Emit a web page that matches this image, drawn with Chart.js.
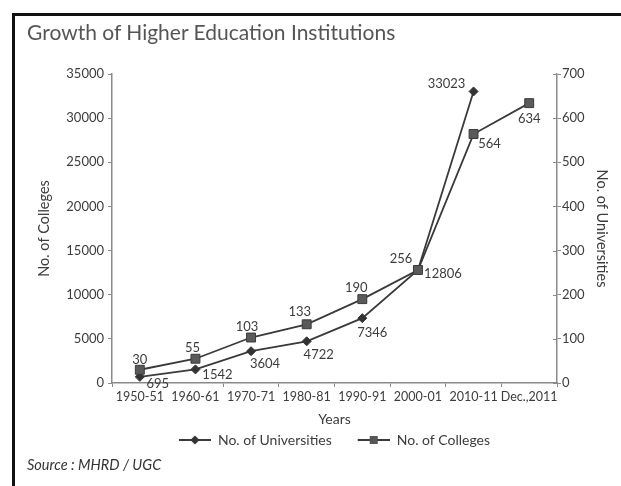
<!DOCTYPE html>
<html>
<head>
<meta charset="utf-8">
<script src="https://cdn.jsdelivr.net/npm/chart.js@4.4.1/dist/chart.umd.min.js"></script>
<style>
  html, body { margin: 0; padding: 0; background: #fff; }
  #wrap { position: relative; width: 621px; height: 486px; overflow: hidden; }
  #myChart { position: absolute; left: 0; top: 0; }
  #frame { position: absolute; left: 12px; top: 13px; width: 640px; height: 500px;
           border-left: 3px solid #111; border-top: 3px solid #111; }
  #title { position: absolute; left: 27px; top: 19px; font: 21px Lato; color: #555; }
  #source { position: absolute; left: 27px; top: 456px; font: italic 14.5px Lato; color: #333; }
</style>
</head>
<body>
<div id="wrap">
  <canvas id="myChart" width="621" height="486"></canvas>
  <div id="frame"></div>
  <div id="title">Growth of Higher Education Institutions</div>
  <div id="source">Source : MHRD / UGC</div>
</div>
<script>
// Chart data =============================================================
var years = ['1950-51', '1960-61', '1970-71', '1980-81', '1990-91', '2000-01', '2010-11', 'Dec.,2011'];
var universities = [695, 1542, 3604, 4722, 7346, 12806, 33023, null];
var colleges = [30, 55, 103, 133, 190, 256, 564, 634];
var leftTicks = [0, 5000, 10000, 15000, 20000, 25000, 30000, 35000];
var rightTicks = [0, 100, 200, 300, 400, 500, 600, 700];

// where each value label sits relative to its point (dx, dy)
var uniLabelPos = [[18, 7], [22, 5], [14, 13], [12, 14], [10, 15], [25, 4], [-27, -8]];
var colLabelPos = [[0, -10], [-3, -11], [-4, -11], [-7, -12], [-6, -11], [-17, -11], [16, 10], [0, 16]];

var lineColor = '#3a3a3a';
var axisColor = '#8a8a8a';
var textColor = '#3c3c3c';
var font = 'Lato';

// Legend icons: a short line with the marker in the middle
function makeIcon(kind) {
  var c = document.createElement('canvas');
  c.width = 52;
  c.height = 14;
  var g = c.getContext('2d');
  g.strokeStyle = lineColor;
  g.lineWidth = 2;
  g.beginPath();
  g.moveTo(20, 7);
  g.lineTo(52, 7);
  g.stroke();
  g.fillStyle = kind === 'rect' ? '#555' : '#333';
  g.beginPath();
  if (kind === 'rect') {
    g.rect(32, 3, 8, 8);
  } else {
    g.moveTo(36, 2.5); g.lineTo(40.5, 7); g.lineTo(36, 11.5); g.lineTo(31.5, 7);
    g.closePath();
  }
  g.fill();
  return c;
}
var legendIcons = [makeIcon('rectRot'), makeIcon('rect')];

// value labels + inner tick marks of the right axis
var extrasPlugin = {
  id: 'extras',
  afterDatasetsDraw: function(chart) {
    var ctx = chart.ctx;
    var offsets = [uniLabelPos, colLabelPos];
    ctx.save();
    ctx.font = '13px ' + font;
    ctx.fillStyle = textColor;
    ctx.textAlign = 'center';
    ctx.textBaseline = 'middle';
    chart.data.datasets.forEach(function(ds, di) {
      var meta = chart.getDatasetMeta(di);
      meta.data.forEach(function(pt, i) {
        if (ds.data[i] === null) { return; }
        var off = offsets[di][i];
        ctx.fillText(String(ds.data[i]), pt.x + off[0], pt.y + off[1]);
      });
    });
    var y1 = chart.scales.y1;
    ctx.strokeStyle = axisColor;
    ctx.lineWidth = 1;
    y1.ticks.forEach(function(t) {
      var py = Math.round(y1.getPixelForValue(t.value)) + 0.5;
      ctx.beginPath();
      ctx.moveTo(y1.left - 4, py);
      ctx.lineTo(y1.left, py);
      ctx.stroke();
    });
    ctx.restore();
  }
};

var canvas = document.getElementById('myChart');
var ctx = canvas.getContext('2d');

var myChart = new Chart(ctx, {
  type: 'line',
  data: {
    labels: years,
    datasets: [{
      label: 'No. of Universities',
      data: universities,
      yAxisID: 'y',
      order: 1,
      borderColor: lineColor,
      borderWidth: 1.8,
      backgroundColor: '#333',
      pointStyle: 'rectRot',
      pointRadius: 4.5,
      pointBorderWidth: 1,
      pointBorderColor: '#333',
      pointBackgroundColor: '#333',
      fill: false,
      tension: 0
    }, {
      label: 'No. of Colleges',
      data: colleges,
      yAxisID: 'y1',
      order: 0,
      borderColor: lineColor,
      borderWidth: 1.8,
      backgroundColor: '#555',
      pointStyle: 'rect',
      pointRadius: 6.3,
      pointBorderWidth: 1,
      pointBorderColor: '#3a3a3a',
      pointBackgroundColor: '#5a5a5a',
      fill: false,
      tension: 0
    }]
  },
  options: {
    responsive: false,
    animation: false,
    devicePixelRatio: 1,
    layout: { padding: { left: 38, right: 10, top: 74, bottom: 29 } },
    plugins: {
      tooltip: { enabled: false },
      legend: {
        position: 'bottom',
        labels: {
          usePointStyle: true,
          pointStyleWidth: 52,
          padding: 6,
          color: textColor,
          font: { family: font, size: 14 },
          sort: function(a, b) { return a.datasetIndex - b.datasetIndex; },
          generateLabels: function(chart) {
            var items = Chart.defaults.plugins.legend.labels.generateLabels(chart);
            items.forEach(function(it) { it.pointStyle = legendIcons[it.datasetIndex]; });
            return items;
          }
        }
      }
    },
    scales: {
      x: {
        offset: true,
        afterFit: function(s) { s.height = 44; },
        grid: { display: true, offset: true, drawOnChartArea: false, drawTicks: true, tickLength: 4, color: axisColor },
        border: { display: true, color: axisColor, width: 1.5 },
        ticks: { color: textColor, font: { family: font, size: 12.5 }, padding: 2, maxRotation: 0, autoSkip: false },
        title: { display: true, text: 'Years', color: textColor, font: { family: font, size: 14 }, padding: { top: 0, bottom: -0.5 } }
      },
      y: {
        position: 'left',
        min: 0,
        max: 35000,
        afterFit: function(s) { s.width = 74; },
        afterBuildTicks: function(s) { s.ticks = leftTicks.map(function(v) { return { value: v }; }); },
        grid: { display: true, drawOnChartArea: false, drawTicks: true, tickLength: 4, color: axisColor },
        border: { display: true, color: axisColor, width: 1.5 },
        ticks: { color: textColor, font: { family: font, size: 13 }, padding: 4,
                 callback: function(v) { return String(v); } },
        title: { display: true, text: 'No. of Colleges', color: textColor, font: { family: font, size: 14.5 }, padding: { top: -2.7, bottom: 0 } }
      },
      y1: {
        position: 'right',
        min: 0,
        max: 700,
        afterFit: function(s) { s.width = 54; },
        afterBuildTicks: function(s) { s.ticks = rightTicks.map(function(v) { return { value: v }; }); },
        grid: { display: true, drawOnChartArea: false, drawTicks: true, tickLength: 4, color: axisColor },
        border: { display: true, color: axisColor, width: 1.5 },
        ticks: { color: textColor, font: { family: font, size: 13 }, padding: 1,
                 callback: function(v) { return String(v); } },
        title: { display: true, text: 'No. of Universities', color: textColor, font: { family: font, size: 14.5 }, padding: { top: 0.3, bottom: 0 } }
      }
    }
  },
  plugins: [extrasPlugin]
});
</script>
</body>
</html>
